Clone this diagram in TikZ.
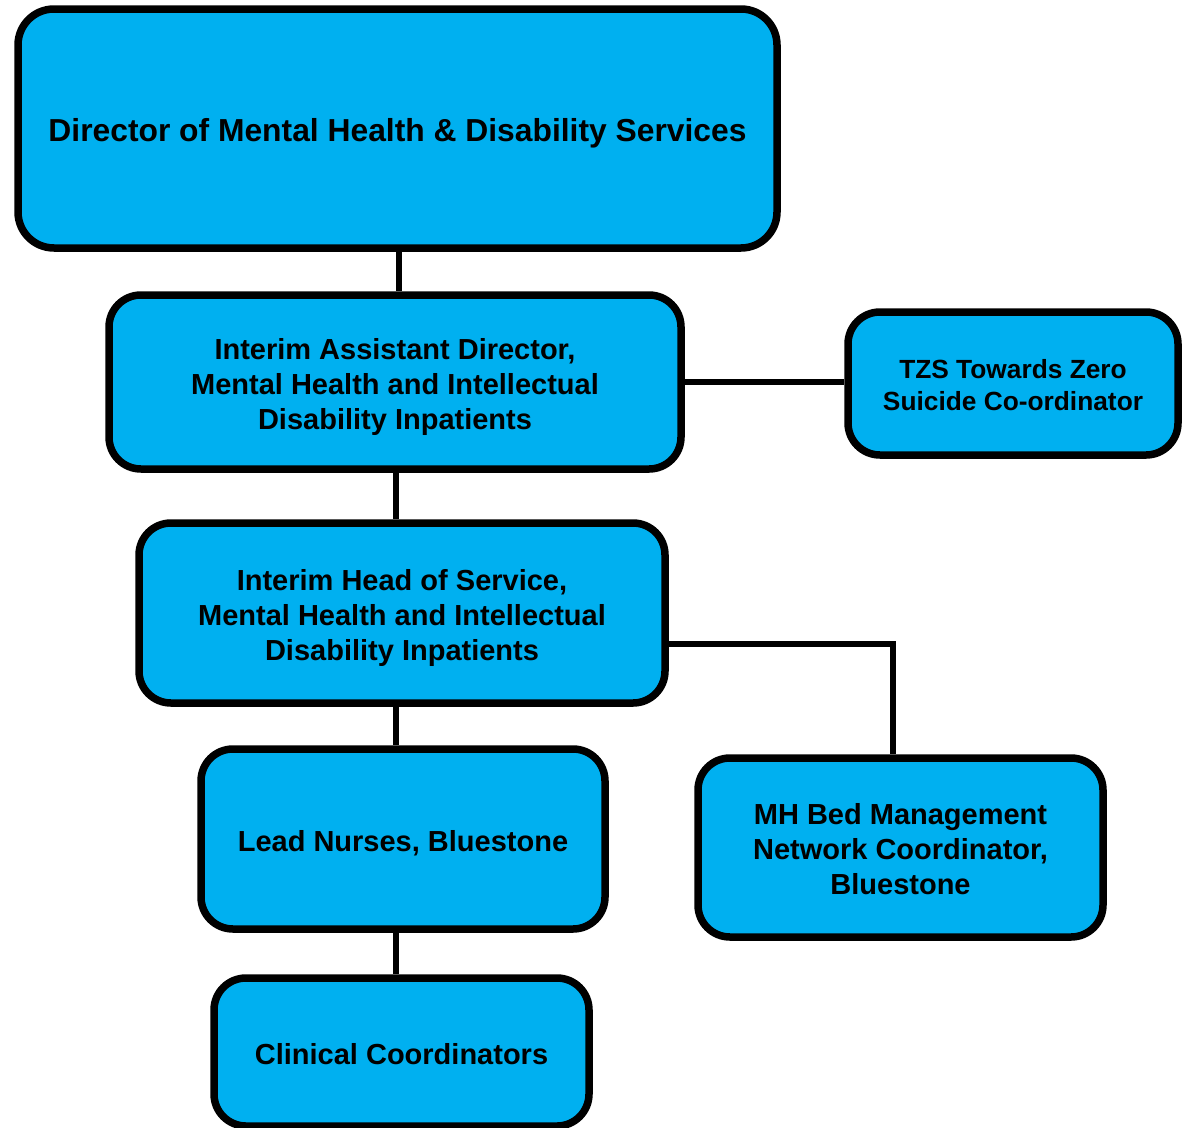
\documentclass[tikz,border=0pt]{standalone}
\usepackage{fontspec}
\setmainfont{Liberation Sans}
\definecolor{boxblue}{HTML}{00B0F0}
\newcommand{\boxtext}[1]{\raisebox{-5pt}[\height][\depth]{\begin{tabular}{@{}c@{}}#1\end{tabular}}}
\begin{document}
\begin{tikzpicture}[x=1pt,y=1pt,
  orgbox/.style={draw=black, fill=boxblue, line width=7.5pt, rounded corners=32pt,
    inner sep=0pt, font=\bfseries\fontsize{29}{35}\selectfont},
  link/.style={draw=black, line width=6pt}]
\useasboundingbox (0,0) rectangle (1182,-1127);
% nodes (centre coordinates, border centre-line sizes)
\node[orgbox, rounded corners=36pt, minimum width=759pt, minimum height=239pt,
  font=\bfseries\fontsize{31.8}{38}\selectfont] (dir) at (397.5,-128.5)
  {\boxtext{Director of Mental Health \& Disability Services}};
\node[orgbox, minimum width=572pt, minimum height=174pt] (asst) at (395,-382)
  {\boxtext{Interim Assistant Director,\\Mental Health and Intellectual\\Disability Inpatients}};
\node[orgbox, minimum width=330pt, minimum height=143pt,
  font=\bfseries\fontsize{26.3}{32}\selectfont] (tzs) at (1013,-383.5)
  {\boxtext{TZS Towards Zero\\Suicide Co-ordinator}};
\node[orgbox, minimum width=526pt, minimum height=180pt] (head) at (402,-613)
  {\boxtext{Interim Head of Service,\\Mental Health and Intellectual\\Disability Inpatients}};
\node[orgbox, minimum width=404pt, minimum height=180pt] (lead) at (403,-839)
  {\boxtext{Lead Nurses, Bluestone}};
\node[orgbox, minimum width=405pt, minimum height=179pt] (mh) at (900.5,-847.5)
  {\boxtext{MH Bed Management\\Network Coordinator,\\Bluestone}};
\node[orgbox, minimum width=375pt, minimum height=148pt] (clin) at (401.5,-1052)
  {\boxtext{Clinical Coordinators}};
% connectors
\coordinate (c1) at (399,0);
\coordinate (c2) at (396,0);
\coordinate (c3) at (0,-382);
\coordinate (hm) at (893,-644);
\path[link] (dir.south -| c1) -- (asst.north -| c1);
\path[link] (asst.east |- c3) -- (tzs.west |- c3);
\path[link] (asst.south -| c2) -- (head.north -| c2);
\path[link] (head.east |- hm) -| (mh.north -| hm);
\path[link] (head.south -| c2) -- (lead.north -| c2);
\path[link] (lead.south -| c2) -- (clin.north -| c2);
\end{tikzpicture}
\end{document}
